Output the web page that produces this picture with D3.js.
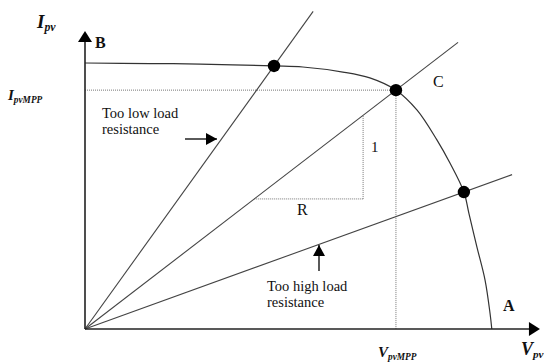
<!DOCTYPE html>
<html><head><meta charset="utf-8">
<script src="https://cdn.jsdelivr.net/npm/d3@7"></script>
<style>
html,body{margin:0;padding:0;background:#fff;}
</style></head>
<body><svg id="c" width="544" height="363"></svg>
<script>
// I-V curve of a PV module (V, I in relative units)
const curveV = [0, 14.4, 25.6, 42, 48.4, 57.3, 63.3, 69.1, 73.8, 78.2, 81.1, 84.2, 85.3, 87.1, 88.9, 90.0, 90.4];
const curveI = [100, 99.8, 99.6, 98.9, 98.5, 96.6, 94.4, 89.8, 82.3, 71.1, 62.4, 51.5, 43.6, 30.8, 18.4, 6.0, 0];
// Load lines (slope = 1/R) and the V where each is drawn to
const loadSlopes = [2.355, 1.2996, 0.6116];
const loadEndV = [50.7, 82.9, 94.9];
// operating points (intersections)
const opV = [42, 69.1, 84.2];
const opI = [98.9, 89.8, 51.5];
const mppV = 69.1, mppI = 89.8;
// slope triangle on the MPP load line
const triV = [37.6, 61.8];
const triI = [48.9, 80.3];
const axisMaxV = 101.1, axisMaxI = 112;

const FONT = "'Liberation Serif', 'Times New Roman', serif";
const svg = d3.select("#c");
const x = d3.scaleLinear().domain([0, 100]).range([85, 535]);
const y = d3.scaleLinear().domain([0, 100]).range([329, 63]);

const dotted = {stroke:"#777", "stroke-width":1, "stroke-dasharray":"1,1"};
function line(x1,y1,x2,y2,attrs){
  const l = svg.append("line").attr("x1",x1).attr("y1",y1).attr("x2",x2).attr("y2",y2);
  for (const k in attrs) l.attr(k, attrs[k]);
  return l;
}
// dotted MPP guides
line(x(0), y(mppI), x(mppV), y(mppI), dotted);
line(x(mppV), y(mppI), x(mppV), y(0), dotted);
// slope triangle
line(x(triV[0]), y(triI[0]), x(triV[1]), y(triI[0]), dotted);
line(x(triV[1]), y(triI[0]), x(triV[1]), y(triI[1]), dotted);

// load lines
loadSlopes.forEach((s,i)=>{
  line(x(0), y(0), x(loadEndV[i]), y(s*loadEndV[i]), {stroke:"#444","stroke-width":1.1});
});

// I-V curve
const pts = curveV.map((v,i)=>[v, curveI[i]]);
svg.append("path").datum(pts)
  .attr("d", d3.line().x(d=>x(d[0])).y(d=>y(d[1])).curve(d3.curveCatmullRom.alpha(0.5)))
  .attr("fill","none").attr("stroke","#333").attr("stroke-width",1.2);

// axes
line(x(0), y(0), x(axisMaxV)-8, y(0), {stroke:"#222","stroke-width":1.6});
line(x(0), y(0), x(0), y(axisMaxI)+8, {stroke:"#222","stroke-width":1.6});
const tx = x(axisMaxV), ty = y(axisMaxI);
svg.append("path").attr("d", `M${tx},${y(0)} L${tx-11},${y(0)-7} L${tx-11},${y(0)+7} Z`).attr("fill","#000");
svg.append("path").attr("d", `M${x(0)},${ty} L${x(0)-7},${ty+11} L${x(0)+7},${ty+11} Z`).attr("fill","#000");

// operating points
opV.forEach((v,i)=>{
  svg.append("circle").attr("cx",x(v)).attr("cy",y(opI[i])).attr("r",6.2).attr("fill","#000");
});

// small arrows
function arrow(x1,y1,x2,y2){
  line(x1,y1,x2,y2,{stroke:"#000","stroke-width":1.3});
  const a = Math.atan2(y2-y1,x2-x1), L=11, W=6;
  const bx = x2 - L*Math.cos(a), by = y2 - L*Math.sin(a);
  const px = -Math.sin(a)*W, py = Math.cos(a)*W;
  svg.append("path").attr("d",`M${x2},${y2} L${bx+px},${by+py} L${bx-px},${by-py} Z`).attr("fill","#000");
}
arrow(185, 139, 217, 139);
arrow(319, 271, 319, 245);

// texts
function txt(s, px, py, opts={}){
  const t = svg.append("text").attr("x",px).attr("y",py).text(s)
    .attr("font-family", FONT).attr("fill","#111")
    .attr("font-size",(opts.size||15));
  if (opts.bold) t.attr("font-weight","bold");
  if (opts.anchor) t.attr("text-anchor",opts.anchor);
  return t;
}
function sub(main, subs, px, py, size){
  const t = svg.append("text").attr("x",px).attr("y",py)
    .attr("font-family", FONT).attr("fill","#111")
    .attr("font-style","italic").attr("font-weight","bold");
  t.append("tspan").text(main).attr("font-size",size);
  t.append("tspan").text(subs).attr("font-size",size*0.62).attr("dy",3);
  return t;
}
sub("I","pv",37,28,19);
sub("I","pvMPP",8,100,15);
sub("V","pvMPP",378,357,15);
sub("V","pv",521,355,18);

txt("B",95,48,{size:16,bold:true});
txt("C",433,87,{size:16});
txt("A",503,311,{size:16,bold:true});
txt("R",297,215,{size:16});
txt("1",371,152,{size:15});
txt("Too low load",102,118,{size:14.5});
txt("resistance",102,134,{size:14.5});
txt("Too high load",267,291,{size:14.5});
txt("resistance",267,307,{size:14.5});
</script></body></html>
